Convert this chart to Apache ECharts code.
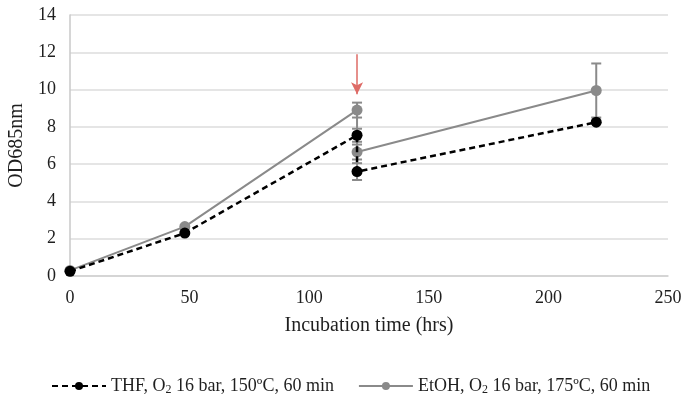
<!DOCTYPE html>
<html><head><meta charset="utf-8">
<script src="https://cdn.jsdelivr.net/npm/echarts@6/dist/echarts.min.js"></script>
<style>html,body{margin:0;padding:0;background:#fff}#c{width:684px;height:396px}</style>
</head><body><div id="c"></div>
<script>
const xTicks = [0, 50, 100, 150, 200, 250];
const yTicks = [0, 2, 4, 6, 8, 10, 12, 14];
const thfX = [0, 48, 120, 120, 220];
const thfY = [0.25, 2.3, 7.55, 5.6, 8.25];
const etohX = [0, 48, 120, 120, 220];
const etohY = [0.3, 2.65, 8.9, 6.65, 9.95];
// error bars: x, y, err
const errX = [120, 120, 120, 120, 220];
const errY = [8.9, 6.65, 7.55, 5.6, 9.95];
const errE = [0.4, 0.4, 0.35, 0.45, 1.45];
const arrowX = 120, arrowTop = 11.9, arrowBottom = 9.75;
const thfName = 'THF';
const etohName = 'EtOH';

const font = 'Liberation Serif';
const txt = '#1f1f1f';
const chart = echarts.init(document.getElementById('c'));
chart.setOption({
  animation: false,
  backgroundColor: '#fff',
  grid: {left: 70, right: 16, top: 15, bottom: 120, containLabel: false, outerBoundsMode: 'none'},
  xAxis: {
    type: 'value', min: 0, max: 250, interval: 50,
    name: 'Incubation time (hrs)', nameLocation: 'middle', nameGap: 40,
    nameTextStyle: {fontFamily: font, fontSize: 20, color: txt},
    axisLine: {show: true, lineStyle: {color: '#d0d0d0', width: 1.5}},
    axisTick: {show: false},
    axisLabel: {fontFamily: font, fontSize: 18, color: txt, margin: 13},
    splitLine: {show: false}
  },
  yAxis: {
    type: 'value', min: 0, max: 14, interval: 2,
    name: 'OD685nm', nameLocation: 'middle', nameGap: 40,
    nameTextStyle: {fontFamily: font, fontSize: 20, color: txt},
    axisLine: {show: true, lineStyle: {color: '#c8c8c8', width: 1.5}},
    axisTick: {show: false},
    axisLabel: {fontFamily: font, fontSize: 18, color: txt, margin: 14},
    splitLine: {show: true, lineStyle: {color: '#dcdcdc', width: 1.5}}
  },
  legend: {
    top: 372, left: 46, itemWidth: 54, itemHeight: 10, itemGap: 24,
    data: [thfName, etohName],
    formatter: function (n) {
      if (n === thfName) return '{a|THF, O}{s|2}{a| 16 bar, 150ºC, 60 min}';
      return '{a|EtOH, O}{s|2}{a| 16 bar, 175ºC, 60 min}';
    },
    textStyle: {
      fontFamily: font, fontSize: 18, color: txt,
      rich: {
        a: {fontFamily: font, fontSize: 18, color: txt},
        s: {fontFamily: font, fontSize: 12, color: txt, padding: [8, 0, 0, 0]}
      }
    }
  },
  series: [
    {
      name: etohName, type: 'line', z: 3,
      data: etohX.map((x, i) => [x, etohY[i]]),
      symbol: 'circle', symbolSize: 11,
      itemStyle: {color: '#8a8a8a'},
      lineStyle: {color: '#8a8a8a', width: 2}
    },
    {
      name: thfName, type: 'line', z: 4,
      data: thfX.map((x, i) => [x, thfY[i]]),
      symbol: 'circle', symbolSize: 11,
      itemStyle: {color: '#000'},
      lineStyle: {color: '#000', width: 2.5, type: [6, 4]}
    },
    {
      name: 'err', type: 'custom', z: 2,
      data: errX.map((x, i) => [x, errY[i], errE[i]]),
      renderItem: function (params, api) {
        const x = api.value(0), y = api.value(1), e = api.value(2);
        const top = api.coord([x, y + e]);
        const bot = api.coord([x, y - e]);
        const w = 5;
        const st = {stroke: '#8a8a8a', lineWidth: 2};
        return {type: 'group', children: [
          {type: 'line', shape: {x1: top[0], y1: top[1], x2: bot[0], y2: bot[1]}, style: st},
          {type: 'line', shape: {x1: top[0] - w, y1: top[1], x2: top[0] + w, y2: top[1]}, style: st},
          {type: 'line', shape: {x1: bot[0] - w, y1: bot[1], x2: bot[0] + w, y2: bot[1]}, style: st}
        ]};
      }
    },
    {
      name: 'arrow', type: 'line', data: [], silent: true,
      markLine: {
        silent: true, symbol: ['none', 'arrow'], symbolSize: [9, 12],
        label: {show: false},
        lineStyle: {color: '#de6b66', width: 1.5, type: 'solid'},
        data: [[{coord: [arrowX, arrowTop]}, {coord: [arrowX, arrowBottom]}]]
      }
    }
  ]
});
</script></body></html>
